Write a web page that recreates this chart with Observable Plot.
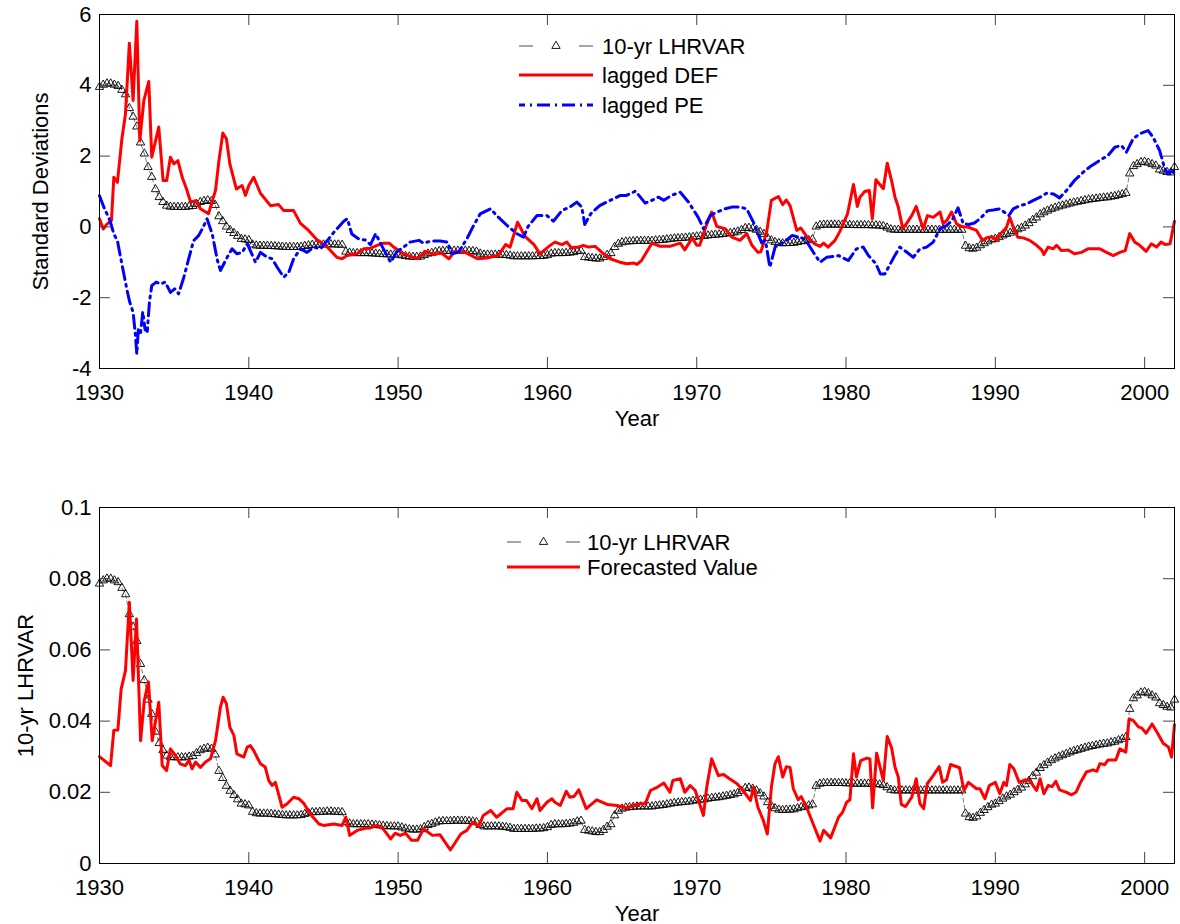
<!DOCTYPE html>
<html><head><meta charset="utf-8">
<script src="https://cdn.jsdelivr.net/npm/d3@7"></script>
<script src="https://cdn.jsdelivr.net/npm/@observablehq/plot@0.6"></script>
<style>body{margin:0;background:#fff;} #chart svg{display:block;}</style>
</head><body><div id="chart"></div>
<script>
// ---------- DATA ----------
// 10-yr LHRVAR, quarterly from 1930.00 to 2002.00 (raw units)
const lhrvarStartYear = 1930;
const lhrvar = [
.0786,.0795,.0800,.0800, .0795,.0790,.0774,.0756, .0700,.0665,.0625,.0560, .0515,.0460,.0420,.0370,
.0338,.0318,.0303,.0299, .0298,.0298,.0298,.0298, .0300,.0302,.0310,.0318, .0322,.0325,.0322,.0306,
.0260,.0240,.0218,.0204, .0192,.0180,.0168,.0166, .0163,.0145,.0141,.0140, .0140,.0140,.0139,.0138,
.0137,.0136,.0135,.0135, .0135,.0135,.0136,.0139, .0142,.0144,.0144,.0145, .0145,.0146,.0146,.0145,
.0145,.0144,.0116,.0112, .0110,.0110,.0110,.0110, .0110,.0109,.0108,.0107, .0106,.0105,.0104,.0104,
.0104,.0101,.0098,.0096, .0095,.0095,.0096,.0102, .0108,.0111,.0115,.0118, .0119,.0119,.0119,.0120,
.0120,.0120,.0120,.0119, .0118,.0116,.0108,.0104, .0104,.0104,.0104,.0104, .0103,.0102,.0100,.0097,
.0097,.0097,.0097,.0097, .0097,.0098,.0098,.0099, .0102,.0108,.0110,.0110, .0110,.0111,.0112,.0114,
.0118,.0120,.0094,.0092, .0090,.0088,.0088,.0094, .0103,.0110,.0135,.0148, .0154,.0157,.0158,.0159,
.0160,.0160,.0160,.0160, .0160,.0162,.0163,.0164, .0166,.0168,.0170,.0171, .0172,.0173,.0174,.0176,
.0178,.0179,.0180,.0182, .0184,.0185,.0186,.0188, .0190,.0192,.0194,.0198, .0204,.0212,.0213,.0210,
.0205,.0197,.0188,.0172, .0162,.0155,.0151,.0150, .0151,.0151,.0152,.0155, .0158,.0160,.0163,.0166,
.0218,.0224,.0226,.0226, .0226,.0226,.0226,.0226, .0225,.0225,.0224,.0224, .0224,.0224,.0224,.0223,
.0223,.0222,.0220,.0214, .0207,.0205,.0205,.0205, .0205,.0205,.0205,.0205, .0205,.0205,.0205,.0205,
.0205,.0205,.0205,.0205, .0205,.0205,.0205,.0205, .0140,.0130,.0128,.0132, .0142,.0150,.0158,.0165,
.0168,.0175,.0182,.0188, .0193,.0200,.0207,.0213, .0222,.0232,.0245,.0255, .0268,.0276,.0283,.0290,
.0295,.0300,.0304,.0308, .0312,.0316,.0319,.0322, .0325,.0328,.0330,.0332, .0334,.0336,.0337,.0340,
.0342,.0346,.0350,.0355, .0434,.0464,.0472,.0480, .0482,.0478,.0472,.0466, .0450,.0445,.0440,.0438,
.0460
];
// standardisation constants of LHRVAR used in the upper panel
const LHRVAR_MEAN = 0.0217;
const LHRVAR_SD = 0.0144;

// lagged DEF (standard deviations)
const defYears = [1930.0,1930.25,1930.5,1930.8,1930.96,1931.2,1931.5,1931.74,1932.0,1932.25,1932.5,1932.7,1932.97,1933.3,1933.5,1933.97,1934.26,1934.5,1934.75,1934.98,1935.25,1935.54,1935.83,1936.1,1936.43,1936.76,1937.3,1937.77,1938.0,1938.26,1938.5,1938.73,1939.17,1939.55,1939.78,1940.0,1940.33,1940.78,1941.45,1942.0,1942.34,1943.0,1943.46,1944.0,1944.58,1945.25,1945.9,1946.25,1946.58,1947.25,1947.7,1948.15,1948.6,1949.0,1949.4,1949.7,1950.37,1950.8,1951.3,1951.8,1952.4,1952.9,1953.4,1953.8,1954.5,1955.3,1955.95,1956.7,1957.2,1957.5,1958.0,1958.5,1959.1,1959.5,1960.1,1960.5,1960.97,1961.3,1961.6,1962.1,1962.4,1962.75,1963.2,1963.65,1964.2,1964.8,1965.3,1965.8,1966.0,1966.3,1967.0,1967.55,1968.2,1968.9,1969.2,1969.7,1970.0,1970.2,1970.6,1971.0,1971.35,1971.9,1972.35,1972.9,1973.35,1973.7,1974.1,1974.3,1974.46,1974.7,1975.0,1975.47,1975.76,1976.0,1976.25,1976.7,1976.96,1977.4,1977.9,1978.26,1978.5,1978.8,1979.26,1979.6,1980.1,1980.5,1980.76,1980.93,1981.27,1981.56,1981.76,1982.0,1982.5,1982.76,1983.05,1983.28,1983.5,1983.8,1984.06,1984.4,1984.7,1984.95,1985.17,1985.46,1985.84,1986.3,1986.5,1986.78,1987.07,1987.4,1987.74,1988.2,1988.74,1989.14,1989.5,1989.86,1990.08,1990.4,1990.75,1990.97,1991.24,1991.5,1991.87,1992.3,1992.76,1993.1,1993.25,1993.54,1993.87,1994.1,1994.43,1994.88,1995.3,1995.77,1996.2,1997.0,1997.45,1997.9,1998.34,1998.7,1999.0,1999.34,1999.67,2000.1,2000.45,2000.8,2001.1,2001.4,2001.7,2002.0];
const defValues = [0.23,-0.06,0.08,0.18,1.40,1.26,2.49,3.19,5.19,3.57,5.81,2.44,3.57,4.11,1.97,2.82,1.31,1.31,1.97,1.78,1.87,1.40,1.07,0.70,0.74,0.51,0.37,1.03,1.87,2.65,2.49,1.78,1.07,1.17,0.89,1.17,1.40,0.95,0.60,0.63,0.46,0.46,0.10,-0.10,-0.37,-0.57,-0.86,-0.90,-0.81,-0.76,-0.62,-0.60,-0.52,-0.46,-0.46,-0.57,-0.76,-0.83,-0.90,-0.69,-0.78,-0.74,-0.90,-0.69,-0.72,-0.90,-0.88,-0.81,-0.50,-0.57,0.13,-0.27,-0.50,-0.76,-0.55,-0.43,-0.50,-0.43,-0.59,-0.57,-0.52,-0.57,-0.55,-0.72,-0.90,-0.99,-1.04,-1.02,-1.06,-0.95,-0.46,-0.55,-0.55,-0.46,-0.65,-0.31,-0.52,-0.52,-0.01,0.42,0.01,-0.05,-0.29,-0.38,-0.19,-0.52,-0.72,-0.70,-0.48,-0.10,0.75,0.86,0.63,0.76,0.60,-0.10,-0.03,-0.29,-0.48,-0.55,-0.46,-0.57,-0.38,-0.12,0.37,1.20,0.58,0.84,1.01,1.03,0.23,1.33,1.08,1.80,1.31,0.84,0.56,-0.05,0.10,0.32,0.58,0.23,-0.05,0.32,0.27,0.42,0.09,0.20,0.42,0.09,0.01,-0.01,-0.10,-0.38,-0.29,-0.29,-0.38,-0.17,-0.01,0.27,-0.05,-0.29,-0.31,-0.38,-0.52,-0.65,-0.78,-0.57,-0.62,-0.52,-0.67,-0.65,-0.76,-0.72,-0.62,-0.62,-0.72,-0.81,-0.72,-0.67,-0.19,-0.43,-0.52,-0.69,-0.48,-0.57,-0.43,-0.50,-0.48,0.16];

// lagged PE (standard deviations)
const peYears = [1930.0,1930.3,1930.7,1930.96,1931.2,1931.5,1931.85,1932.03,1932.25,1932.4,1932.5,1932.6,1932.75,1932.9,1933.05,1933.2,1933.35,1933.5,1933.8,1934.1,1934.4,1934.75,1935.04,1935.3,1935.65,1936.0,1936.3,1936.65,1936.94,1937.2,1937.55,1937.9,1938.1,1938.55,1938.88,1939.2,1939.55,1939.9,1940.45,1940.78,1941.23,1941.56,1941.9,1942.34,1942.68,1943.0,1943.46,1943.9,1944.35,1944.8,1945.25,1945.8,1946.36,1946.6,1946.9,1947.36,1947.8,1948.15,1948.5,1948.8,1949.5,1949.9,1950.37,1950.8,1951.4,1951.7,1952.2,1952.8,1953.3,1953.6,1954.05,1954.6,1955.06,1955.5,1956.2,1956.6,1957.3,1957.95,1958.4,1958.7,1959.3,1959.97,1960.4,1960.97,1961.5,1961.97,1962.3,1962.5,1962.9,1963.5,1964.2,1964.9,1965.3,1965.9,1966.55,1967.0,1967.44,1967.8,1968.3,1968.9,1969.45,1970.1,1970.45,1970.9,1971.35,1971.9,1972.35,1972.9,1973.35,1973.8,1974.1,1974.35,1974.6,1974.9,1975.25,1975.6,1976.0,1976.4,1976.8,1977.25,1977.8,1978.26,1978.7,1979.5,1980.15,1980.7,1981.15,1981.5,1982.0,1982.3,1982.6,1983.2,1983.6,1984.06,1984.5,1984.95,1985.4,1985.84,1986.3,1986.73,1987.1,1987.5,1987.85,1988.2,1988.6,1988.97,1989.5,1989.86,1990.3,1990.9,1991.2,1991.65,1992.1,1992.55,1993.0,1993.43,1993.9,1994.3,1994.77,1995.3,1995.9,1996.44,1997.0,1997.55,1998.0,1998.45,1998.78,1999.23,1999.67,2000.23,2000.56,2001.0,2001.35,2001.57,2001.86,2002.0];
const peValues = [0.88,0.55,0.18,-0.20,-0.39,-1.05,-1.80,-2.13,-2.41,-3.02,-3.59,-2.90,-3.00,-2.40,-2.90,-2.95,-2.10,-1.66,-1.56,-1.61,-1.56,-1.85,-1.75,-1.89,-1.42,-0.86,-0.39,-0.24,-0.01,0.23,-0.20,-0.95,-1.23,-0.86,-0.62,-0.76,-0.72,-0.48,-1.00,-0.72,-0.86,-0.90,-1.14,-1.42,-1.28,-0.90,-0.62,-0.72,-0.57,-0.62,-0.39,-0.10,0.16,0.23,-0.20,-0.34,-0.37,-0.50,-0.19,-0.45,-1.00,-0.71,-0.57,-0.43,-0.38,-0.46,-0.40,-0.40,-0.43,-0.76,-0.71,-0.34,0.04,0.37,0.51,0.32,0.04,-0.19,-0.29,0.01,0.32,0.32,0.16,0.46,0.56,0.70,0.56,0.07,0.37,0.60,0.75,0.89,0.89,1.01,0.67,0.75,0.84,0.75,0.89,0.98,0.70,0.27,-0.05,0.32,0.42,0.51,0.56,0.56,0.51,0.13,-0.19,-0.45,-0.38,-1.14,-0.57,-0.48,-0.38,-0.24,-0.29,-0.34,-0.71,-1.00,-0.86,-0.81,-0.95,-0.62,-0.57,-0.81,-1.04,-1.33,-1.33,-0.86,-0.57,-0.71,-0.86,-0.62,-0.57,-0.43,-0.05,0.04,0.18,0.54,0.09,0.07,0.11,0.23,0.46,0.48,0.51,0.32,0.51,0.60,0.65,0.75,0.84,0.95,0.93,0.82,1.03,1.31,1.55,1.73,1.88,2.02,2.25,2.30,2.11,2.49,2.63,2.72,2.54,2.16,1.64,1.50,1.59,1.50];

// Forecasted value of 10-yr LHRVAR
const fcYears = [1930.0,1930.74,1930.96,1931.23,1931.45,1931.74,1932.0,1932.25,1932.48,1932.75,1933.0,1933.28,1933.53,1933.97,1934.2,1934.49,1934.75,1935.1,1935.4,1935.75,1936.0,1936.2,1936.43,1936.76,1937.1,1937.43,1937.77,1938.1,1938.28,1938.5,1938.73,1939.0,1939.2,1939.66,1939.9,1940.1,1940.33,1940.78,1941.1,1941.34,1941.56,1941.78,1942.23,1942.57,1943.0,1943.35,1943.7,1944.1,1944.7,1945.0,1945.7,1946.25,1946.5,1946.76,1947.25,1947.8,1948.15,1948.6,1949.0,1949.5,1949.8,1950.15,1950.5,1950.9,1951.3,1951.7,1952.3,1952.8,1953.5,1954.2,1954.6,1955.0,1955.4,1955.7,1956.2,1956.6,1957.3,1957.7,1957.95,1958.3,1958.6,1958.96,1959.3,1959.5,1959.97,1960.3,1960.5,1960.86,1961.26,1961.5,1961.8,1962.1,1962.6,1963.3,1964.0,1964.65,1965.3,1965.8,1966.2,1966.55,1966.9,1967.3,1967.8,1968.2,1968.4,1968.9,1969.2,1969.56,1969.9,1970.45,1970.67,1971.0,1971.45,1971.8,1972.2,1972.7,1973.1,1973.6,1973.8,1974.1,1974.46,1974.73,1975.0,1975.24,1975.47,1975.76,1976.0,1976.25,1976.47,1976.8,1977.0,1977.4,1977.8,1978.26,1978.5,1978.97,1979.5,1979.77,1980.04,1980.26,1980.5,1980.7,1980.98,1981.4,1981.6,1981.78,1982.05,1982.5,1982.76,1983.05,1983.28,1983.5,1983.7,1983.99,1984.4,1984.7,1984.95,1985.2,1985.44,1985.84,1986.24,1986.47,1986.73,1987.0,1987.6,1987.9,1988.2,1988.74,1988.97,1989.3,1989.6,1990.0,1990.3,1990.57,1990.75,1990.97,1991.24,1991.6,1991.98,1992.3,1992.76,1993.0,1993.25,1993.54,1993.8,1994.05,1994.3,1994.77,1995.1,1995.4,1995.66,1996.1,1996.55,1996.8,1997.0,1997.33,1997.55,1998.07,1998.34,1998.74,1998.96,1999.23,1999.6,1999.8,2000.1,2000.5,2000.9,2001.24,2001.6,2001.8,2002.0];
const fcValues = [.030,.0275,.0374,.0375,.049,.0542,.0734,.0514,.0687,.0345,.0458,.051,.0345,.0453,.0275,.0261,.0322,.0303,.028,.0275,.029,.0266,.0285,.027,.0285,.0294,.0345,.0439,.0467,.0449,.0383,.036,.0308,.0299,.0327,.0331,.0317,.028,.0271,.0233,.0219,.0228,.0158,.0168,.0186,.0182,.0168,.014,.0111,.0107,.0111,.0107,.013,.0079,.0093,.0099,.0100,.0107,.0097,.0069,.0085,.0079,.0085,.0065,.0065,.0097,.0079,.0081,.0038,.0083,.0093,.0116,.0104,.0135,.0149,.013,.0154,.0154,.020,.0177,.0177,.0154,.0182,.0149,.0172,.0182,.0172,.0163,.0203,.0186,.0189,.0207,.0154,.0179,.0166,.0163,.0156,.0163,.0168,.0168,.0205,.0213,.0226,.020,.0233,.0238,.020,.0219,.0205,.0135,.0214,.0294,.0247,.025,.0238,.0224,.0205,.0177,.0214,.0158,.0121,.0083,.0214,.028,.030,.0243,.0272,.027,.021,.0179,.0188,.0154,.0111,.0063,.0093,.0072,.013,.0144,.0172,.0179,.0308,.0243,.0289,.0296,.0294,.0156,.031,.0233,.0357,.0325,.0271,.0243,.0166,.016,.0186,.0238,.0168,.0154,.0224,.0247,.0272,.0228,.0235,.0278,.0269,.0205,.0228,.021,.021,.0182,.0219,.0228,.0196,.0228,.0219,.0278,.0266,.0228,.0235,.0233,.0205,.0238,.0196,.0219,.0216,.0231,.0207,.020,.0193,.020,.0224,.0257,.0263,.0259,.028,.0278,.0291,.0291,.0322,.0313,.0406,.0402,.0383,.0381,.0366,.0392,.0364,.0338,.0327,.0299,.039];

const xTicks = [1930, 1940, 1950, 1960, 1970, 1980, 1990, 2000];
const yTicksTop = [-4, -2, 0, 2, 4, 6];
const yTicksBottom = [0, 0.02, 0.04, 0.06, 0.08, 0.1];
const yTickLabelsBottom = ["0", "0.02", "0.04", "0.06", "0.08", "0.1"];

// ---------- TABLES ----------
const lhr = lhrvar.map((v, i) => ({year: lhrvarStartYear + i / 4, v, z: (v - LHRVAR_MEAN) / LHRVAR_SD}));
const def = defYears.map((y, i) => ({year: y, v: defValues[i]}));
const pe = peYears.map((y, i) => ({year: y, v: peValues[i]}));
const fc = fcYears.map((y, i) => ({year: y, v: fcValues[i]}));

// ---------- LAYOUT ----------
const W = 1180, ML = 99, MR = 6;
const innerW = W - ML - MR;
const FONT = "'Liberation Sans', Arial, Helvetica, sans-serif";
const FS = 22;
const RED = "#ff0000", BLUE = "#0000ff", TICK = "#444";
const TRI_R = 3.1;
const DASHDOT = "13,5,2,5";

function frameMarks(innerH, yTicks, yFmt, yLabel, yLabelDx) {
  return [
    Plot.tickX(xTicks, {x: d => d, insetTop: innerH - 11, stroke: TICK}),
    Plot.tickX(xTicks, {x: d => d, insetBottom: innerH - 11, stroke: TICK}),
    Plot.tickY(yTicks, {y: d => d, insetRight: innerW - 11, stroke: TICK}),
    Plot.tickY(yTicks, {y: d => d, insetLeft: innerW - 11, stroke: TICK}),
    Plot.frame({stroke: "black", strokeWidth: 1}),
    Plot.text(xTicks, {x: d => d, text: d => String(d), frameAnchor: "bottom", dy: 24,
      textAnchor: "middle", lineAnchor: "middle", fontSize: FS, fill: "black"}),
    Plot.text(yTicks, {y: d => d, text: yFmt, frameAnchor: "left", dx: -8,
      textAnchor: "end", lineAnchor: "middle", fontSize: FS, fill: "black"}),
    Plot.text([yLabel], {text: d => d, frameAnchor: "left", dx: yLabelDx, rotate: -90,
      textAnchor: "middle", lineAnchor: "middle", fontSize: FS, fill: "black"}),
    Plot.text(["Year"], {text: d => d, frameAnchor: "bottom", dy: 50,
      textAnchor: "middle", lineAnchor: "middle", fontSize: FS, fill: "black"})
  ];
}

// Top panel
const topH = 440, topMT = 14, topMB = 72, topInner = topH - topMT - topMB;
const topPlot = Plot.plot({
  width: W, height: topH, marginLeft: ML, marginRight: MR, marginTop: topMT, marginBottom: topMB,
  style: {fontFamily: FONT, fontSize: FS + "px", color: "black", background: "white", overflow: "visible"},
  x: {domain: [1930, 2002], axis: null},
  y: {domain: [-4, 6], axis: null},
  marks: [
    Plot.line(lhr, {x: "year", y: "z", stroke: "#222", strokeWidth: 0.6, strokeDasharray: "4,3"}),
    Plot.dot(lhr, {x: "year", y: "z", symbol: "triangle", r: TRI_R, stroke: "black", fill: "none", strokeWidth: 0.9}),
    Plot.line(def, {x: "year", y: "v", stroke: RED, strokeWidth: 3}),
    Plot.line(pe, {x: "year", y: "v", stroke: BLUE, strokeWidth: 3, strokeDasharray: DASHDOT}),
    ...frameMarks(topInner, yTicksTop, d => String(d), "Standard Deviations", -59)
  ]
});

// Bottom panel
const botH = 484, botMT = 67, botMB = 61, botInner = botH - botMT - botMB;
const botPlot = Plot.plot({
  width: W, height: botH, marginLeft: ML, marginRight: MR, marginTop: botMT, marginBottom: botMB,
  style: {fontFamily: FONT, fontSize: FS + "px", color: "black", background: "white", overflow: "visible"},
  x: {domain: [1930, 2002], axis: null},
  y: {domain: [0, 0.1], axis: null},
  marks: [
    Plot.line(lhr, {x: "year", y: "v", stroke: "#222", strokeWidth: 0.6, strokeDasharray: "4,3"}),
    Plot.dot(lhr, {x: "year", y: "v", symbol: "triangle", r: TRI_R, stroke: "black", fill: "none", strokeWidth: 0.9}),
    Plot.line(fc, {x: "year", y: "v", stroke: RED, strokeWidth: 3}),
    ...frameMarks(botInner, yTicksBottom, d => yTickLabelsBottom[yTicksBottom.indexOf(d)], "10-yr LHRVAR", -74)
  ]
});

// ---------- LEGENDS ----------
const triPath = d3.symbol(d3.symbolTriangle, Math.PI * TRI_R * TRI_R)();
function legend(svg, x0, x1, textX, rows) {
  const g = d3.select(svg).append("g").attr("font-family", FONT).attr("font-size", FS).attr("text-anchor", "start");
  rows.forEach(r => {
    if (r.kind === "tri") {
      const mid = (x0 + x1) / 2;
      g.append("line").attr("x1", x0).attr("x2", x0 + 14).attr("y1", r.y).attr("y2", r.y).attr("stroke", "#222").attr("stroke-width", 0.8);
      g.append("line").attr("x1", x1 - 14).attr("x2", x1).attr("y1", r.y).attr("y2", r.y).attr("stroke", "#222").attr("stroke-width", 0.8);
      g.append("path").attr("d", triPath).attr("transform", `translate(${mid},${r.y})`).attr("fill", "none").attr("stroke", "black").attr("stroke-width", 0.9);
    } else {
      g.append("line").attr("x1", x0).attr("x2", x1).attr("y1", r.y).attr("y2", r.y)
        .attr("stroke", r.color).attr("stroke-width", 3).attr("stroke-dasharray", r.dash || null)
        .attr("stroke-dashoffset", r.dash ? 7 : null);
    }
    g.append("text").attr("x", textX).attr("y", r.y).attr("dy", "0.35em").attr("text-anchor", "start").attr("fill", "black").text(r.label);
  });
}
legend(topPlot, 519, 593, 602, [
  {kind: "tri", y: 46, label: "10-yr LHRVAR"},
  {kind: "line", y: 75, color: RED, label: "lagged DEF"},
  {kind: "line", y: 105, color: BLUE, dash: DASHDOT, label: "lagged PE"}
]);
legend(botPlot, 507, 580, 587, [
  {kind: "tri", y: 102, label: "10-yr LHRVAR"},
  {kind: "line", y: 127, color: RED, label: "Forecasted Value"}
]);

const chart = document.getElementById("chart");
chart.appendChild(topPlot);
chart.appendChild(botPlot);
</script>
</body></html>
